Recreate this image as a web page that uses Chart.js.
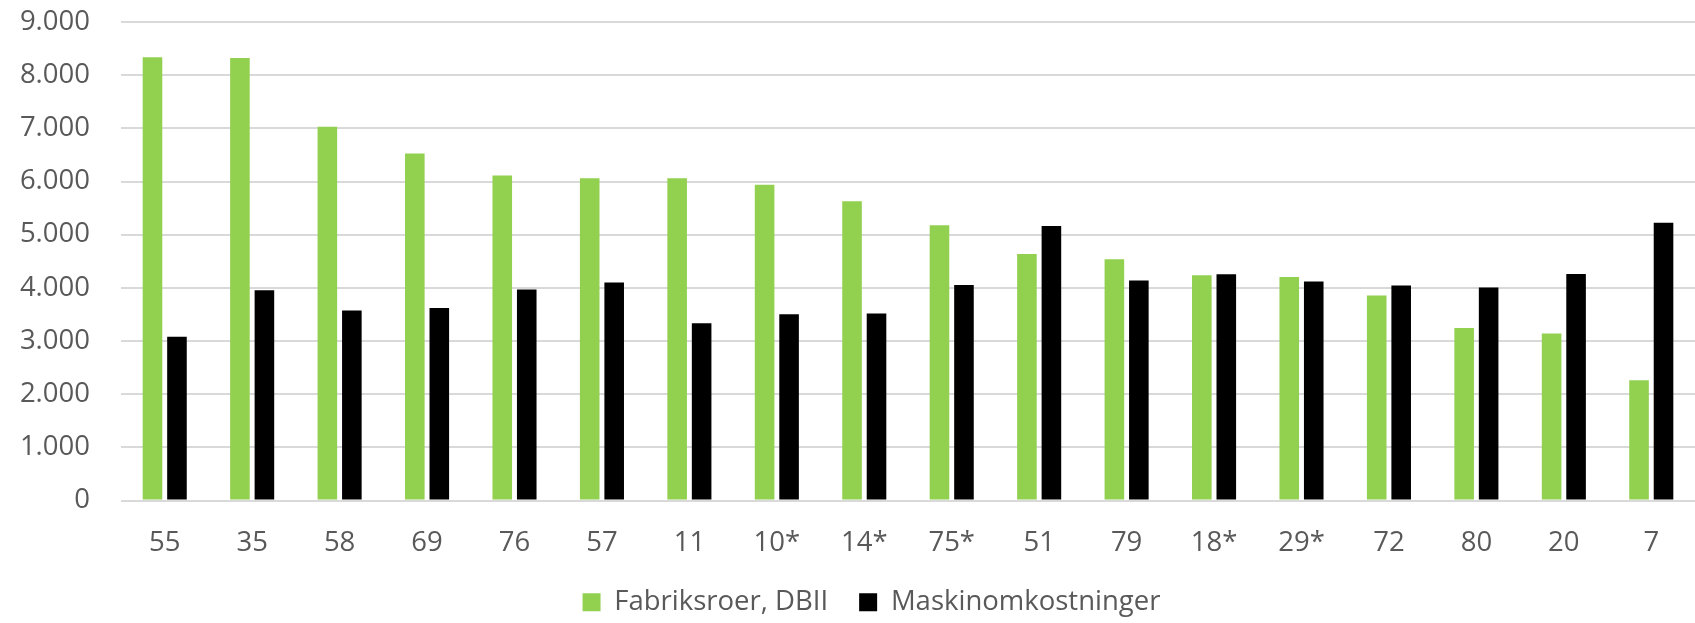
<!DOCTYPE html>
<html>
<head>
<meta charset="utf-8">
<script src="https://cdn.jsdelivr.net/npm/chart.js@4"></script>
<style>
    html, body { margin: 0; padding: 0; background: #fff; }
    #wrap { width: 1695px; height: 623px; }
</style>
</head>
<body>
<div id="wrap"><canvas id="costChart"></canvas></div>
<script>
// Data
const categories = ['55', '35', '58', '69', '76', '57', '11', '10*', '14*', '75*', '51', '79', '18*', '29*', '72', '80', '20', '7'];
const fabriksroer = [8335, 8323, 7030, 6528, 6114, 6063, 6063, 5937, 5630, 5178, 4638, 4538, 4237, 4205, 3854, 3245, 3139, 2260];
const maskinomkostninger = [3081, 3955, 3572, 3621, 3967, 4099, 3333, 3502, 3515, 4054, 5165, 4136, 4255, 4118, 4042, 4005, 4262, 5222];
const yMin = 0;
const yMax = 9000;
const yStep = 1000;

const fontFamily = "'Open Sans', 'Noto Sans', sans-serif";
const fontSize = 27.5;
const textColor = '#595959';
const gridColor = '#d9d9d9';

// legend sits a little right of centre, like the original (plot starts at the axis)
const legendShift = {
    id: 'legendShift',
    afterLayout: function(chart) {
        chart.legend.left += 48;
    }
};

const ctx = document.getElementById('costChart').getContext('2d');
const costChart = new Chart(ctx, {
    type: 'bar',
    data: {
        labels: categories,
        datasets: [{
            label: 'Fabriksroer, DBII',
            data: fabriksroer,
            backgroundColor: '#92d050',
            borderWidth: 0
        }, {
            label: 'Maskinomkostninger',
            data: maskinomkostninger,
            backgroundColor: '#000000',
            borderWidth: 0
        }]
    },
    plugins: [legendShift],
    options: {
        responsive: true,
        maintainAspectRatio: false,
        animation: false,
        categoryPercentage: 0.56,
        barPercentage: 0.8,
        layout: {
            padding: { top: 0, left: 0, right: 0, bottom: -3 }
        },
        plugins: {
            legend: {
                position: 'bottom',
                labels: {
                    boxWidth: 18,
                    boxHeight: 18,
                    padding: 31,
                    color: textColor,
                    font: { size: fontSize, family: fontFamily }
                }
            },
            tooltip: { enabled: false }
        },
        scales: {
            x: {
                grid: { display: false, drawTicks: false },
                border: { display: false },
                ticks: {
                    padding: 26,
                    color: textColor,
                    font: { size: fontSize, family: fontFamily }
                },
                afterFit: function(scale) {
                    scale.height = 57;
                }
            },
            y: {
                min: yMin,
                max: yMax,
                grid: { color: gridColor, lineWidth: 2, drawTicks: false },
                border: { display: false },
                ticks: {
                    stepSize: yStep,
                    padding: 31,
                    color: textColor,
                    font: { size: fontSize, family: fontFamily },
                    callback: function(value) {
                        return value.toString().replace(/\B(?=(\d{3})+(?!\d))/g, '.');
                    }
                },
                afterFit: function(scale) {
                    scale.width = 121;
                    scale.paddingTop = 22;
                    scale.paddingBottom = 0;
                }
            }
        }
    }
});
</script>
</body>
</html>
